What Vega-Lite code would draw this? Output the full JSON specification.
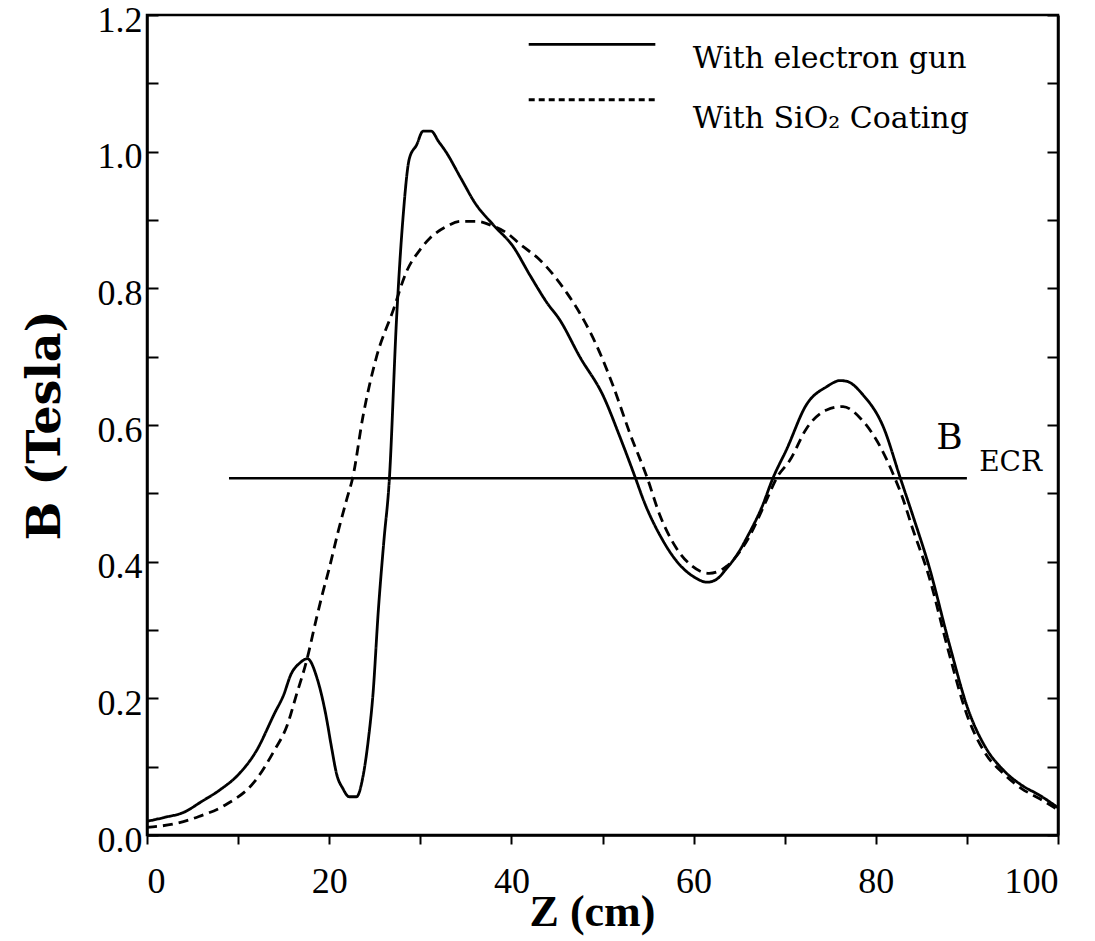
{
  "$schema": "https://vega.github.io/schema/vega-lite/v6.json",
  "width": 911,
  "height": 820,
  "autosize": {"type": "none"},
  "padding": {"left": 147, "top": 15, "right": 37, "bottom": 106},
  "background": "white",
  "config": {
    "view": {"stroke": "black", "strokeWidth": 2.5},
    "axis": {"domainColor": "black", "domainWidth": 2.5, "tickColor": "black", "tickWidth": 2, "labelColor": "black", "titleColor": "black", "grid": false}
  },
  "layer": [
    {
      "data": {"values": [
        {"Z": 0, "B": 0.020, "series": "With electron gun"},
        {"Z": 2, "B": 0.026, "series": "With electron gun"},
        {"Z": 4, "B": 0.033, "series": "With electron gun"},
        {"Z": 6, "B": 0.049, "series": "With electron gun"},
        {"Z": 8, "B": 0.066, "series": "With electron gun"},
        {"Z": 10, "B": 0.088, "series": "With electron gun"},
        {"Z": 12, "B": 0.123, "series": "With electron gun"},
        {"Z": 14, "B": 0.178, "series": "With electron gun"},
        {"Z": 15, "B": 0.205, "series": "With electron gun"},
        {"Z": 15.8, "B": 0.235, "series": "With electron gun"},
        {"Z": 16.8, "B": 0.252, "series": "With electron gun"},
        {"Z": 17.6, "B": 0.258, "series": "With electron gun"},
        {"Z": 18.7, "B": 0.228, "series": "With electron gun"},
        {"Z": 19.6, "B": 0.178, "series": "With electron gun"},
        {"Z": 20.3, "B": 0.125, "series": "With electron gun"},
        {"Z": 20.8, "B": 0.090, "series": "With electron gun"},
        {"Z": 21.5, "B": 0.068, "series": "With electron gun"},
        {"Z": 22.2, "B": 0.056, "series": "With electron gun"},
        {"Z": 23.0, "B": 0.056, "series": "With electron gun"},
        {"Z": 23.7, "B": 0.085, "series": "With electron gun"},
        {"Z": 24.3, "B": 0.140, "series": "With electron gun"},
        {"Z": 24.8, "B": 0.205, "series": "With electron gun"},
        {"Z": 25.4, "B": 0.330, "series": "With electron gun"},
        {"Z": 26.0, "B": 0.430, "series": "With electron gun"},
        {"Z": 26.6, "B": 0.520, "series": "With electron gun"},
        {"Z": 27.4, "B": 0.757, "series": "With electron gun"},
        {"Z": 28.1, "B": 0.903, "series": "With electron gun"},
        {"Z": 28.8, "B": 0.990, "series": "With electron gun"},
        {"Z": 29.6, "B": 1.010, "series": "With electron gun"},
        {"Z": 30.3, "B": 1.030, "series": "With electron gun"},
        {"Z": 31.2, "B": 1.030, "series": "With electron gun"},
        {"Z": 32.0, "B": 1.015, "series": "With electron gun"},
        {"Z": 32.8, "B": 1.000, "series": "With electron gun"},
        {"Z": 34.5, "B": 0.960, "series": "With electron gun"},
        {"Z": 36.0, "B": 0.925, "series": "With electron gun"},
        {"Z": 38.0, "B": 0.893, "series": "With electron gun"},
        {"Z": 40.2, "B": 0.861, "series": "With electron gun"},
        {"Z": 42.0, "B": 0.820, "series": "With electron gun"},
        {"Z": 43.9, "B": 0.779, "series": "With electron gun"},
        {"Z": 45.3, "B": 0.754, "series": "With electron gun"},
        {"Z": 47.5, "B": 0.700, "series": "With electron gun"},
        {"Z": 50.1, "B": 0.642, "series": "With electron gun"},
        {"Z": 51.9, "B": 0.583, "series": "With electron gun"},
        {"Z": 53.6, "B": 0.523, "series": "With electron gun"},
        {"Z": 54.5, "B": 0.490, "series": "With electron gun"},
        {"Z": 56.5, "B": 0.434, "series": "With electron gun"},
        {"Z": 58.5, "B": 0.395, "series": "With electron gun"},
        {"Z": 60.0, "B": 0.378, "series": "With electron gun"},
        {"Z": 61.5, "B": 0.370, "series": "With electron gun"},
        {"Z": 62.5, "B": 0.374, "series": "With electron gun"},
        {"Z": 63.5, "B": 0.388, "series": "With electron gun"},
        {"Z": 65.0, "B": 0.415, "series": "With electron gun"},
        {"Z": 66.0, "B": 0.439, "series": "With electron gun"},
        {"Z": 67.5, "B": 0.480, "series": "With electron gun"},
        {"Z": 68.7, "B": 0.522, "series": "With electron gun"},
        {"Z": 70.2, "B": 0.564, "series": "With electron gun"},
        {"Z": 72.4, "B": 0.630, "series": "With electron gun"},
        {"Z": 74.6, "B": 0.656, "series": "With electron gun"},
        {"Z": 76.1, "B": 0.665, "series": "With electron gun"},
        {"Z": 76.8, "B": 0.664, "series": "With electron gun"},
        {"Z": 78.6, "B": 0.644, "series": "With electron gun"},
        {"Z": 80.8, "B": 0.598, "series": "With electron gun"},
        {"Z": 82.7, "B": 0.522, "series": "With electron gun"},
        {"Z": 84.2, "B": 0.462, "series": "With electron gun"},
        {"Z": 85.8, "B": 0.395, "series": "With electron gun"},
        {"Z": 88.1, "B": 0.278, "series": "With electron gun"},
        {"Z": 90.1, "B": 0.185, "series": "With electron gun"},
        {"Z": 92.1, "B": 0.127, "series": "With electron gun"},
        {"Z": 94.0, "B": 0.095, "series": "With electron gun"},
        {"Z": 96.0, "B": 0.073, "series": "With electron gun"},
        {"Z": 98.0, "B": 0.058, "series": "With electron gun"},
        {"Z": 100, "B": 0.040, "series": "With electron gun"},
        {"Z": 0, "B": 0.011, "series": "With SiO₂ Coating"},
        {"Z": 3.2, "B": 0.017, "series": "With SiO₂ Coating"},
        {"Z": 5.7, "B": 0.027, "series": "With SiO₂ Coating"},
        {"Z": 8.6, "B": 0.044, "series": "With SiO₂ Coating"},
        {"Z": 11.8, "B": 0.078, "series": "With SiO₂ Coating"},
        {"Z": 13.9, "B": 0.122, "series": "With SiO₂ Coating"},
        {"Z": 15.4, "B": 0.161, "series": "With SiO₂ Coating"},
        {"Z": 16.4, "B": 0.205, "series": "With SiO₂ Coating"},
        {"Z": 17.5, "B": 0.254, "series": "With SiO₂ Coating"},
        {"Z": 18.6, "B": 0.317, "series": "With SiO₂ Coating"},
        {"Z": 19.3, "B": 0.355, "series": "With SiO₂ Coating"},
        {"Z": 20.0, "B": 0.390, "series": "With SiO₂ Coating"},
        {"Z": 21.0, "B": 0.445, "series": "With SiO₂ Coating"},
        {"Z": 21.9, "B": 0.490, "series": "With SiO₂ Coating"},
        {"Z": 22.6, "B": 0.524, "series": "With SiO₂ Coating"},
        {"Z": 23.7, "B": 0.612, "series": "With SiO₂ Coating"},
        {"Z": 25.2, "B": 0.700, "series": "With SiO₂ Coating"},
        {"Z": 27.0, "B": 0.767, "series": "With SiO₂ Coating"},
        {"Z": 28.5, "B": 0.825, "series": "With SiO₂ Coating"},
        {"Z": 30.0, "B": 0.857, "series": "With SiO₂ Coating"},
        {"Z": 31.1, "B": 0.874, "series": "With SiO₂ Coating"},
        {"Z": 32.8, "B": 0.890, "series": "With SiO₂ Coating"},
        {"Z": 34.4, "B": 0.898, "series": "With SiO₂ Coating"},
        {"Z": 36.2, "B": 0.898, "series": "With SiO₂ Coating"},
        {"Z": 38.0, "B": 0.891, "series": "With SiO₂ Coating"},
        {"Z": 39.5, "B": 0.881, "series": "With SiO₂ Coating"},
        {"Z": 41.0, "B": 0.864, "series": "With SiO₂ Coating"},
        {"Z": 43.1, "B": 0.842, "series": "With SiO₂ Coating"},
        {"Z": 46.1, "B": 0.793, "series": "With SiO₂ Coating"},
        {"Z": 47.5, "B": 0.764, "series": "With SiO₂ Coating"},
        {"Z": 49.7, "B": 0.706, "series": "With SiO₂ Coating"},
        {"Z": 51.2, "B": 0.656, "series": "With SiO₂ Coating"},
        {"Z": 53.0, "B": 0.588, "series": "With SiO₂ Coating"},
        {"Z": 54.9, "B": 0.523, "series": "With SiO₂ Coating"},
        {"Z": 56.3, "B": 0.468, "series": "With SiO₂ Coating"},
        {"Z": 58.1, "B": 0.420, "series": "With SiO₂ Coating"},
        {"Z": 59.7, "B": 0.395, "series": "With SiO₂ Coating"},
        {"Z": 61.7, "B": 0.383, "series": "With SiO₂ Coating"},
        {"Z": 63.6, "B": 0.393, "series": "With SiO₂ Coating"},
        {"Z": 66.0, "B": 0.434, "series": "With SiO₂ Coating"},
        {"Z": 68.0, "B": 0.490, "series": "With SiO₂ Coating"},
        {"Z": 69.1, "B": 0.522, "series": "With SiO₂ Coating"},
        {"Z": 70.6, "B": 0.549, "series": "With SiO₂ Coating"},
        {"Z": 72.4, "B": 0.595, "series": "With SiO₂ Coating"},
        {"Z": 74.6, "B": 0.622, "series": "With SiO₂ Coating"},
        {"Z": 76.4, "B": 0.627, "series": "With SiO₂ Coating"},
        {"Z": 78.3, "B": 0.610, "series": "With SiO₂ Coating"},
        {"Z": 80.5, "B": 0.568, "series": "With SiO₂ Coating"},
        {"Z": 82.1, "B": 0.522, "series": "With SiO₂ Coating"},
        {"Z": 82.9, "B": 0.495, "series": "With SiO₂ Coating"},
        {"Z": 84.0, "B": 0.450, "series": "With SiO₂ Coating"},
        {"Z": 85.8, "B": 0.380, "series": "With SiO₂ Coating"},
        {"Z": 88.0, "B": 0.268, "series": "With SiO₂ Coating"},
        {"Z": 90.0, "B": 0.176, "series": "With SiO₂ Coating"},
        {"Z": 92.0, "B": 0.120, "series": "With SiO₂ Coating"},
        {"Z": 94.0, "B": 0.090, "series": "With SiO₂ Coating"},
        {"Z": 96.0, "B": 0.068, "series": "With SiO₂ Coating"},
        {"Z": 98.0, "B": 0.053, "series": "With SiO₂ Coating"},
        {"Z": 100, "B": 0.037, "series": "With SiO₂ Coating"}
      ]},
      "mark": {"type": "line", "color": "black", "strokeWidth": 2.8, "interpolate": "monotone"},
      "encoding": {
        "x": {"field": "Z", "type": "quantitative", "scale": {"domain": [0, 100], "nice": false},
          "axis": {"values": [0, 10, 20, 30, 40, 50, 60, 70, 80, 90, 100], "labelExpr": "datum.value % 20 == 0 ? datum.label : ''",
            "tickSize": 9, "labelPadding": 20, "labelFont": "Liberation Serif", "labelFontSize": 36,
            "title": "Z  (cm)", "titleFont": "Liberation Serif", "titleFontWeight": "bold", "titleFontSize": 44,
            "titleX": 445, "titleY": 90, "titleBaseline": "alphabetic", "titleAnchor": "middle", "titleAlign": "center"}},
        "y": {"field": "B", "type": "quantitative", "scale": {"domain": [0, 1.2], "nice": false},
          "axis": {"values": [0, 0.1, 0.2, 0.3, 0.4, 0.5, 0.6, 0.7, 0.8, 0.9, 1.0, 1.1, 1.2], "format": ".1f",
            "labelExpr": "round(datum.value * 10) % 2 == 0 ? datum.label : ''",
            "tickSize": -11, "labelPadding": 16, "labelOffset": 5, "labelFont": "Liberation Serif", "labelFontSize": 36,
            "title": "B  (Tesla)", "titleFont": "DejaVu Serif", "titleFontWeight": "bold", "titleFontSize": 46, "titlePadding": 28}},
        "strokeDash": {"field": "series", "type": "nominal",
          "scale": {"domain": ["With electron gun", "With SiO₂ Coating"], "range": [[1, 0], [10, 6]]},
          "legend": null}
      }
    },
    {
      "data": {"values": [
        {"x1": 9, "x2": 90, "b": 0.522, "kind": "ecr"}
      ]},
      "mark": {"type": "rule", "color": "black", "strokeWidth": 2.4},
      "encoding": {
        "x": {"field": "x1", "type": "quantitative"},
        "x2": {"field": "x2"},
        "y": {"field": "b", "type": "quantitative", "scale": {"domain": [0, 1.2], "nice": false},
          "axis": {"orient": "right", "values": [0, 0.1, 0.2, 0.3, 0.4, 0.5, 0.6, 0.7, 0.8, 0.9, 1.0, 1.1, 1.2], "labels": false, "tickSize": -11, "title": null}}
      }
    },
    {
      "data": {"values": [
        {"x1": 41.9, "x2": 55.8, "b": 1.157, "series": "With electron gun"},
        {"x1": 41.9, "x2": 55.8, "b": 1.076, "series": "With SiO₂ Coating"}
      ]},
      "mark": {"type": "rule", "color": "black", "strokeWidth": 2.8},
      "encoding": {
        "x": {"field": "x1", "type": "quantitative"},
        "x2": {"field": "x2"},
        "y": {"field": "b", "type": "quantitative", "scale": {"domain": [0, 1.2], "nice": false}, "axis": null},
        "strokeDash": {"field": "series", "type": "nominal",
          "scale": {"domain": ["With electron gun", "With SiO₂ Coating"], "range": [[1, 0], [6, 4]]}, "legend": null}
      }
    },
    {
      "data": {"values": [
        {"x": 88.1, "y": 0.581, "label": "B", "size": 36},
        {"x": 94.8, "y": 0.545, "label": "ECR", "size": 28}
      ]},
      "mark": {"type": "text", "font": "DejaVu Serif", "color": "black", "align": "center", "baseline": "middle"},
      "encoding": {
        "x": {"field": "x", "type": "quantitative"},
        "y": {"field": "y", "type": "quantitative", "scale": {"domain": [0, 1.2], "nice": false}, "axis": null},
        "text": {"field": "label"},
        "size": {"field": "size", "type": "quantitative", "scale": null}
      }
    },
    {
      "data": {"values": [
        {"x": 59.9, "y": 1.123, "label": "With electron gun"},
        {"x": 59.9, "y": 1.034, "label": "With SiO₂ Coating"}
      ]},
      "mark": {"type": "text", "font": "DejaVu Serif", "fontSize": 30, "color": "black", "align": "left", "baseline": "alphabetic"},
      "encoding": {
        "x": {"field": "x", "type": "quantitative"},
        "y": {"field": "y", "type": "quantitative", "scale": {"domain": [0, 1.2], "nice": false}, "axis": null},
        "text": {"field": "label"}
      }
    }
  ],
  "resolve": {"scale": {"y": "independent", "strokeDash": "independent"}}
}
